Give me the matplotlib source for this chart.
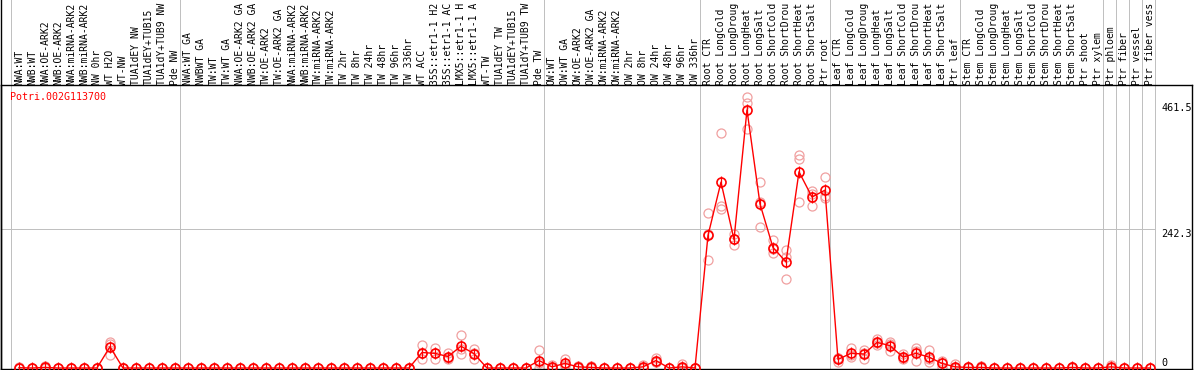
import matplotlib
matplotlib.use("Agg")
import matplotlib.pyplot as plt
import numpy as np

plt.rcParams['font.family'] = ['DejaVu Sans Mono']

gene = "Potri.002G113700"

labels = [
    # group 1
    "NWA:WT", "NWB:WT", "NWA:OE-ARK2", "NWB:OE-ARK2", "NWA:miRNA-ARK2",
    "NWB:miRNA-ARK2", "NW 0hr", "WT H2O", "WT-NW", "TUA1dEY NW",
    "TUA1dEY+TUB15", "TUA1dY+TUB9 NW", "Pde NW",
    # group 2
    "NWA:WT GA", "NWBWT GA", "TW:WT", "TW:WT GA", "NWA:OE-ARK2 GA",
    "NWB:OE-ARK2 GA", "TW:OE-ARK2", "TW:OE-ARK2 GA", "NWA:miRNA-ARK2",
    "NWB:miRNA-ARK2", "TW:miRNA-ARK2", "TW:miRNA-ARK2", "TW 2hr", "TW 8hr",
    "TW 24hr", "TW 48hr", "TW 96hr", "TW 336hr", "WT ACC", "35S::etr1-1 H2",
    "35S::etr1-1 AC", "LMX5::etr1-1 H", "LMX5::etr1-1 A", "WT-TW",
    "TUA1dEY TW", "TUA1dEY+TUB15", "TUA1dY+TUB9 TW", "Pde TW",
    # group 3
    "OW:WT", "OW:WT GA", "OW:OE-ARK2", "OW:OE-ARK2 GA", "OW:miRNA-ARK2",
    "OW:miRNA-ARK2", "OW 2hr", "OW 8hr", "OW 24hr", "OW 48hr", "OW 96hr",
    "OW 336hr",
    # group 4
    "Root CTR", "Root LongCold", "Root LongDroug", "Root LongHeat",
    "Root LongSalt", "Root ShortCold", "Root ShortDrou", "Root ShortHeat",
    "Root ShortSalt", "Ptr root",
    # group 5
    "Leaf CTR", "Leaf LongCold", "Leaf LongDroug", "Leaf LongHeat",
    "Leaf LongSalt", "Leaf ShortCold", "Leaf ShortDrou", "Leaf ShortHeat",
    "Leaf ShortSalt", "Ptr leaf",
    # group 6
    "Stem CTR", "Stem LongCold", "Stem LongDroug", "Stem LongHeat",
    "Stem LongSalt", "Stem ShortCold", "Stem ShortDrou", "Stem ShortHeat",
    "Stem ShortSalt", "Ptr shoot", "Ptr xylem",
    "Ptr phloem", "Ptr fiber", "Ptr vessel", "Ptr fiber vess",
]

# group boundaries (column index where a separator is drawn)
separators = [0, 13, 41, 53, 63, 73, 84, 85, 86, 87, 88]

means = [
    0.5, 0, 1, 0, 0, 0, 0, 37, 0, 0, 0, 0, 0,
    0, 0, 0, 0, 0, 0, 0, 0, 0, 0, 0, 0, 0, 0, 0, 0, 0, 0,
    27, 25.5, 20, 38, 25, 0, 0, 0, 0, 13,
    2, 8, 2, 1, 0, 0, 0, 2, 13, 0, 2, 0,
    231, 324, 224, 450, 286, 210, 185, 342, 298, 310,
    15, 25.6, 24.4, 44.7, 39, 19, 25.6, 19, 8, 2,
    1, 1, 0, 0, 0, 0, 0, 0, 1, 0, 0,
    2, 0, 0, 0,
]

rep1 = [
    0, 0, 4, 0, 0, 0, 0, 46, 0, 0, 0, 0, 0,
    0, 0, 0, 0, 0, 0, 0, 0, 0, 0, 0, 0, 0, 0, 0, 0, 0, 0,
    40, 34, 26, 57, 33, 0, 0, 0, 0, 31,
    5, 15, 4, 3, 0, 0, 0, 6, 18, 0, 7, 0,
    270, 409, 234, 472, 324, 223, 205, 371, 309, 333,
    18, 35, 31, 50, 46, 24, 34, 31, 12, 7,
    2, 4, 0, 0, 0, 0, 0, 0, 2, 0, 0,
    6, 0, 0, 0,
]

rep2 = [
    2, 0, 0, 0, 0, 0, 0, 42, 0, 0, 0, 0, 0,
    0, 0, 0, 0, 0, 0, 0, 0, 0, 0, 0, 0, 0, 0, 0, 0, 0, 0,
    27, 26, 18, 33, 26, 0, 0, 0, 0, 8,
    1, 5, 1, 0, 0, 0, 0, 0, 10, 0, 0, 0,
    233, 282, 224, 462, 290, 207, 194, 364, 303, 299,
    17, 22, 26, 44, 41, 18, 30, 16, 9, 0,
    1, 0, 0, 0, 0, 0, 0, 0, 1, 0, 0,
    0, 0, 0, 0,
]

rep3 = [
    0, 0, 0, 0, 0, 0, 0, 23, 0, 0, 0, 0, 0,
    0, 0, 0, 0, 0, 0, 0, 0, 0, 0, 0, 0, 0, 0, 0, 0, 0, 0,
    16, 16, 16, 24, 16, 0, 0, 0, 0, 0,
    0, 4, 0, 0, 0, 0, 0, 0, 11, 0, 0, 0,
    188, 278, 215, 416, 245, 200, 156, 289, 282, 296,
    10, 20, 16, 40, 30, 16, 12, 11, 2, 0,
    0, 0, 0, 0, 0, 0, 0, 0, 0, 0, 0,
    0, 0, 0, 0,
]

yticks = [0, 242.3, 461.5]

W, H = 1194, 370
fig = plt.figure(figsize=(W / 100, H / 100), dpi=100)
# plot area: pixels x 1..1192, y 85..369
ax = fig.add_axes([1 / W, 1 / H, 1191 / W, 284 / H])

x = np.arange(len(labels)) + 0.65
ax.set_xlim(-0.7308, 90.88)
ax.set_ylim(-1.743, 493.3)

for k in separators:
    ax.axvline(k, ymin=0, ymax=1.3, color='#c0c0c0', lw=0.72, clip_on=False,
               zorder=1)
ax.hlines(yticks[1], -0.7308, separators[-1], color='#c0c0c0', lw=0.72,
          zorder=1)

for rep in (rep1, rep2, rep3):
    ax.plot(x, rep, 'o', ms=6.5, mfc='none', mec='#f0a0a0', mew=0.9, zorder=2)
ax.plot(x, means, '-', color='red', lw=1, zorder=3)
ax.plot(x, means, 'o', ms=6.5, mfc='none', mec='red', mew=1.2, zorder=4)
ax.plot(x, means, '|', ms=8, mec='red', mew=0.9, zorder=4)

for xi, lab in zip(x, labels):
    ax.text(xi, 1.0, lab, rotation=90, ha='center', va='bottom',
            fontsize=7, transform=ax.get_xaxis_transform(),
            clip_on=False)

ax.text(0.0075, 0.975, gene, color='red', fontsize=7.2, ha='left', va='top',
        transform=ax.transAxes)

tx = 1163 / W
ax.text(tx, yticks[2], "461.5", fontsize=7.3, ha='left', va='top',
        transform=ax.get_yaxis_transform())
ax.text(tx, yticks[1], "242.3", fontsize=7.3, ha='left', va='top',
        transform=ax.get_yaxis_transform())
ax.text(tx, yticks[0], "0", fontsize=7.3, ha='left', va='bottom',
        transform=ax.get_yaxis_transform())

ax.set_xticks([])
ax.set_yticks([])
for s in ax.spines.values():
    s.set_color('black')
    s.set_linewidth(1)

# left border through the header
fig.add_artist(plt.Line2D([0.5 / W, 0.5 / W], [0, 1], color='black', lw=1,
                          transform=fig.transFigure))

fig.savefig("out.png", dpi=100)
